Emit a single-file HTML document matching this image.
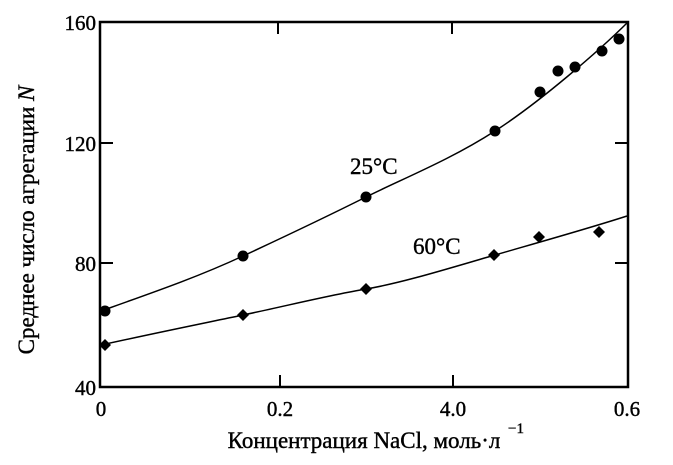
<!DOCTYPE html><html><head><style>body{margin:0;background:#fff}svg{display:block}text{font-family:"Liberation Serif","Noto Serif CJK SC",serif;fill:#000;stroke:#000;stroke-width:0.4}</style></head><body>
<svg width="673" height="465" viewBox="0 0 673 465">
<rect x="100" y="22" width="528" height="365" fill="none" stroke="#000" stroke-width="2.5"/>
<g stroke="#000" stroke-width="2">
<line x1="100" y1="143" x2="113" y2="143"/><line x1="100" y1="263" x2="113" y2="263"/>
<line x1="628" y1="143" x2="615" y2="143"/><line x1="628" y1="263" x2="615" y2="263"/>
<line x1="280" y1="387" x2="280" y2="375"/><line x1="453" y1="387" x2="453" y2="375"/>
<line x1="278" y1="22" x2="278" y2="34"/><line x1="452" y1="22" x2="452" y2="34"/>
</g>
<g font-size="21" text-anchor="end">
<text x="96" y="30">160</text><text x="96" y="151">120</text><text x="96" y="271">80</text><text x="96" y="395">40</text>
</g>
<g font-size="21" text-anchor="middle">
<text x="101" y="416">0</text><text x="280" y="416">0.2</text><text x="453" y="416">4.0</text><text x="627" y="416">0.6</text>
</g>
<text x="364" y="448" font-size="23" text-anchor="middle">Концентрация NaCl, моль·л</text>
<text x="508" y="433" font-size="15">−1</text>
<text transform="translate(34,220) rotate(-90)" font-size="23" text-anchor="middle">Среднее число агрегации <tspan font-style="italic">N</tspan></text>
<text x="350" y="174" font-size="23">25°C</text>
<text x="413" y="254" font-size="23">60°C</text>
<path d="M101,311 C160,290 200,276 243,256 S330,215 366,197 S450,160 495,131 S600,50 628,22" fill="none" stroke="#000" stroke-width="1.5"/>
<path d="M101,345 C160,332 200,324 243,315 S330,295 366,289 S450,268 495,255 S590,228 627,216" fill="none" stroke="#000" stroke-width="1.5"/>
<g fill="#000">
<circle cx="105" cy="311" r="5.5"/><circle cx="243" cy="256" r="5.5"/><circle cx="366" cy="197" r="5.5"/><circle cx="495" cy="131" r="5.5"/><circle cx="540" cy="92" r="5.5"/><circle cx="558" cy="71" r="5.5"/><circle cx="575" cy="67" r="5.5"/><circle cx="602" cy="51" r="5.5"/><circle cx="619" cy="39" r="5.5"/>
</g>
<g fill="#000">
<path d="M105,339 l6,6 -6,6 -6,-6z"/><path d="M243,309 l6,6 -6,6 -6,-6z"/><path d="M366,283 l6,6 -6,6 -6,-6z"/><path d="M494,249 l6,6 -6,6 -6,-6z"/><path d="M539,231 l6,6 -6,6 -6,-6z"/><path d="M599,226 l6,6 -6,6 -6,-6z"/>
</g>
</svg></body></html>
